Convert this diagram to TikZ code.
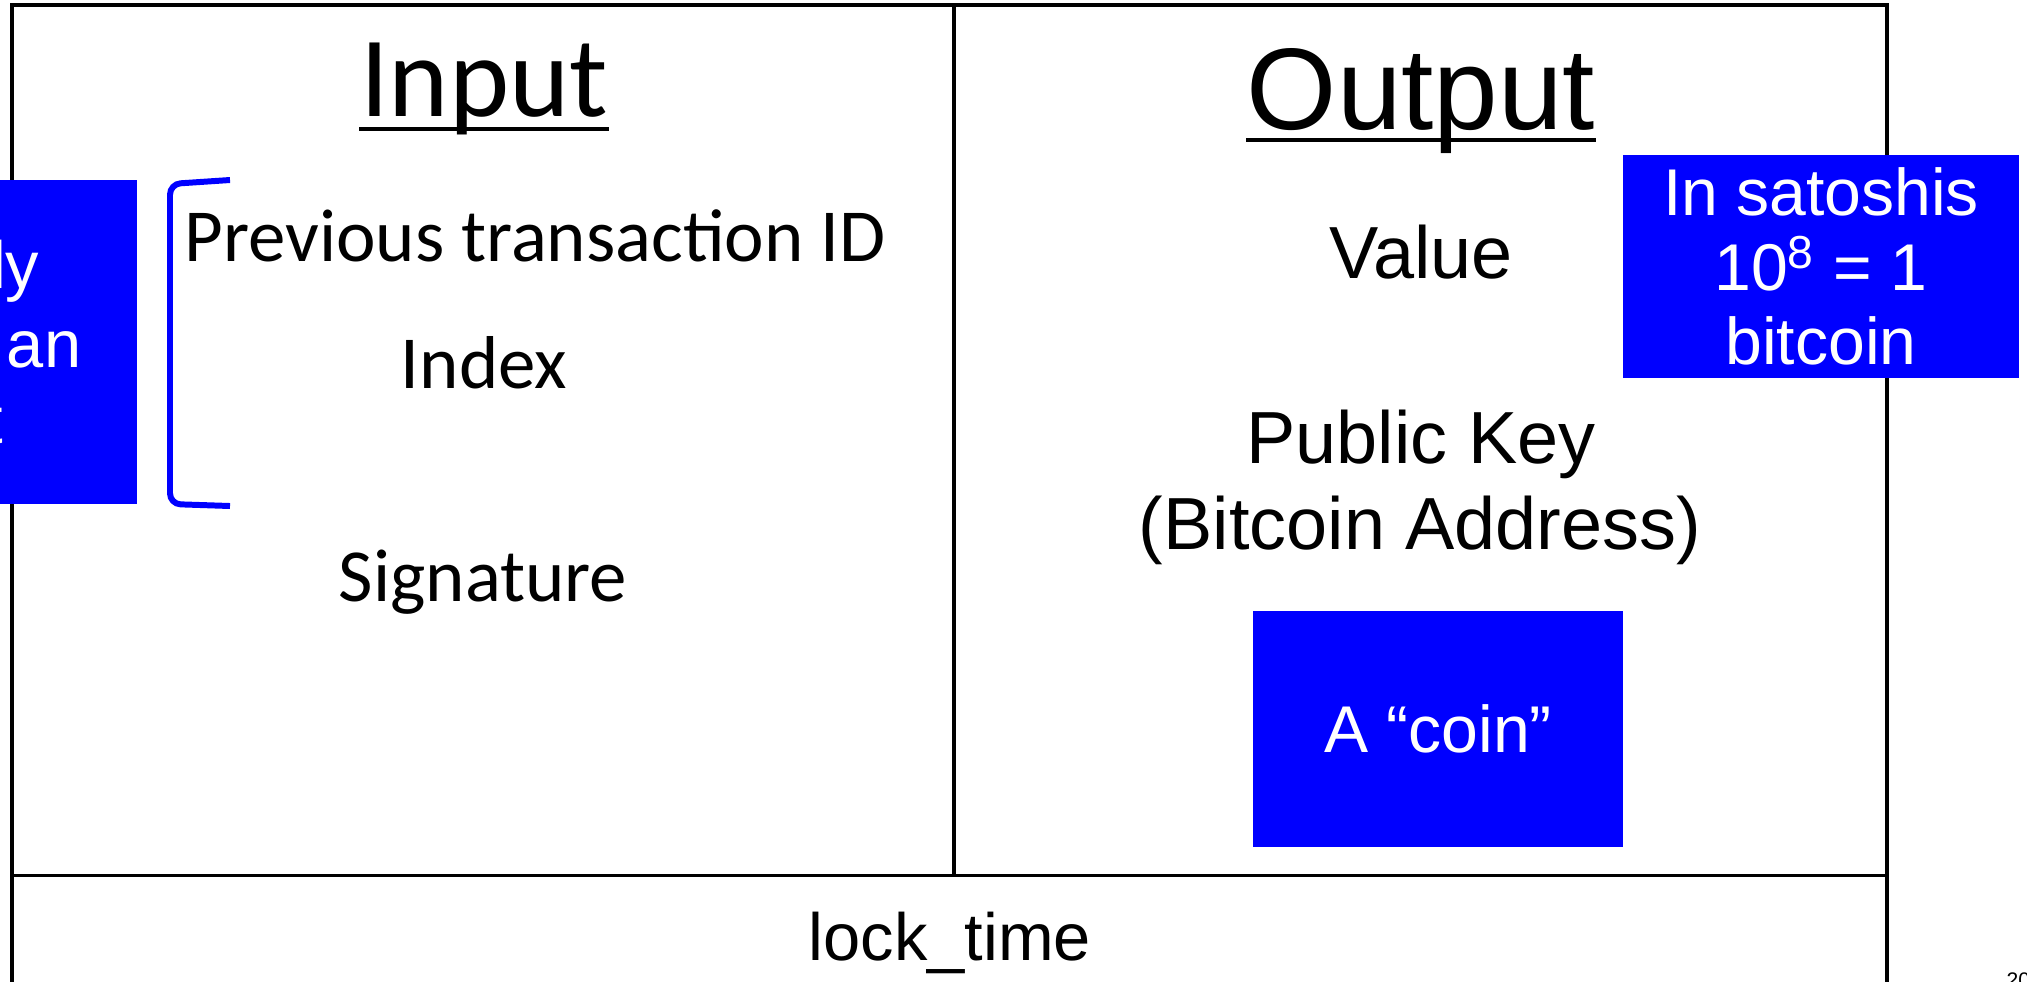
\documentclass[tikz,border=0pt]{standalone}
\usepackage{fontspec}
\setmainfont{Liberation Sans}
\newfontfamily\calibri{Carlito}

\begin{document}
\begin{tikzpicture}[x=0.01cm, y=-0.01cm]
	\tikzstyle{Head} = [anchor=base, inner sep=0pt]
	\tikzstyle{Item} = [anchor=base, inner sep=0pt, font=\calibri\fontsize{21.3}{25}\selectfont]
	\tikzstyle{Field} = [anchor=base, inner sep=0pt, font=\fontsize{21}{25}\selectfont]
	\tikzstyle{Note} = [rectangle, fill=blue, text=white, inner sep=0pt, align=center, font=\fontsize{18.8}{21.1}\selectfont]
	\tikzstyle{NoteText} = [anchor=base east, inner sep=0pt, text=white, font=\fontsize{19}{22}\selectfont]
	\tikzstyle{Line} = [line width=0.9pt, black]

	\useasboundingbox (0,0) rectangle (2027,981);
	\clip (0,0) rectangle (2027,981);

	\draw [Line] (12,1000) -- (12,5) -- (1887,5) -- (1887,1000);
	\draw [Line] (12,875.5) -- (1887,875.5);
	\draw [Line] (954,5) -- (954,875.5);

	\node (input) [Head, font=\calibri\fontsize{32.6}{38}\selectfont] at (484,116) {Input};
	\draw [line width=1.1pt] ([yshift=-3.7pt]input.base west) -- ([yshift=-3.7pt]input.base east);
	\node (output) [Head, font=\fontsize{33}{38}\selectfont] at (1421,129) {Output};
	\draw [line width=1.1pt] ([yshift=-3.1pt]output.base west) -- ([yshift=-3.1pt]output.base east);

	\node (prev) [Item] at (535,261) {Previous transaction ID};
	\node (index) [Item] at (484,388) {Index};
	\node (sig) [Item] at (483,601) {Signature};

	\node (value) [Field] at (1421,278) {Value};
	\node (pubkey) [Field] at (1421,463) {Public Key};
	\node (addr) [Field] at (1420,549) {(Bitcoin Address)};
	\node (lock) [Field, font=\fontsize{19}{23}\selectfont] at (950,960) {lock\_time};

	\draw [blue, line width=1.7pt, rounded corners=3pt] (230,180) -- (170,184) -- (170,504) -- (230,506);

	\node (ref) [Note, minimum width=2.00cm, minimum height=3.24cm] at (37,342) {};
	\node (ly) [NoteText] at (40,288) {ly};
	\node (an) [NoteText] at (82,367) {an};
	\node (t) [NoteText] at (4,443) {t};

	\node (sat) [Note, minimum width=3.96cm, minimum height=2.23cm] at (1821,266.5) {In satoshis\\10\textsuperscript{8} = 1\\bitcoin};
	\node (coin) [Note, minimum width=3.70cm, minimum height=2.36cm] at (1438,729) {A “coin”};

	\node (page) [anchor=north west, inner sep=0pt, font=\fontsize{6}{7}\selectfont] at (2006,972) {20};
\end{tikzpicture}
\end{document}
